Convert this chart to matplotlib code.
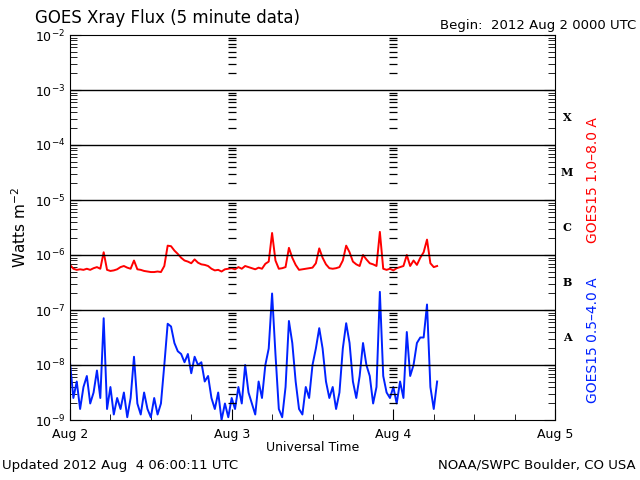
import numpy as np
import matplotlib
matplotlib.use("Agg")
import matplotlib.pyplot as plt

# half-hour samples (log10 W/m^2) starting 2012 Aug 2 00:00 UTC
long_exp = [
    -6.18, -6.25, -6.27, -6.26, -6.27, -6.25, -6.27, -6.24, -6.22, -6.25,
    -5.95, -6.27, -6.29, -6.28, -6.26, -6.22, -6.20, -6.23, -6.25, -6.10,
    -6.26, -6.27, -6.29, -6.30, -6.31, -6.31, -6.30, -6.31, -6.20, -5.83,
    -5.84, -5.92, -5.98, -6.05, -6.10, -6.12, -6.15, -6.08, -6.14, -6.17,
    -6.18, -6.20, -6.25, -6.28, -6.27, -6.30, -6.26, -6.25, -6.24, -6.26,
    -6.22, -6.25, -6.20, -6.22, -6.24, -6.26, -6.23, -6.25, -6.16, -6.12,
    -5.60, -6.10, -6.25, -6.24, -6.22, -5.87, -6.05, -6.18, -6.27, -6.26,
    -6.25, -6.24, -6.23, -6.15, -5.88, -6.05, -6.17, -6.24, -6.25, -6.24,
    -6.22, -6.10, -5.83, -5.95, -6.12, -6.17, -6.20, -6.00, -6.08, -6.15,
    -6.17, -6.20, -5.58, -6.25, -6.27, -6.25, -6.28, -6.24, -6.22, -6.20,
    -6.00, -6.20, -6.10, -6.18, -6.05, -5.95, -5.72, -6.15, -6.22, -6.20,
]
short_exp = [
    -7.95, -8.60, -8.30, -8.80, -8.40, -8.20, -8.70, -8.50, -8.10, -8.60,
    -7.15, -8.80, -8.40, -8.90, -8.60, -8.80, -8.50, -8.95, -8.60, -7.85,
    -8.70, -8.90, -8.50, -8.80, -8.95, -8.60, -8.90, -8.70, -8.00, -7.25,
    -7.30, -7.60, -7.75, -7.80, -7.95, -7.80, -8.15, -7.85, -8.00, -7.95,
    -8.30, -8.20, -8.60, -8.80, -8.50, -9.00, -8.70, -8.95, -8.60, -8.80,
    -8.40, -8.70, -8.00, -8.50, -8.70, -8.90, -8.30, -8.60, -8.00, -7.70,
    -6.70, -7.80, -8.80, -8.95, -8.40, -7.20, -7.60, -8.30, -8.80, -8.90,
    -8.40, -8.60, -8.00, -7.70, -7.33, -7.70, -8.30, -8.60, -8.40, -8.80,
    -8.50, -7.70, -7.24, -7.60, -8.30, -8.60, -8.20, -7.60, -8.00, -8.20,
    -8.70, -8.40, -6.67, -8.20, -8.50, -8.60, -8.40, -8.70, -8.30, -8.60,
    -7.40, -8.20, -8.00, -7.60, -7.50, -7.50, -6.90, -8.40, -8.80, -8.30,
]
day_labels = ["Aug 2", "Aug 3", "Aug 4", "Aug 5"]
class_letters = ["X", "M", "C", "B", "A"]
class_exp = [-3.5, -4.5, -5.5, -6.5, -7.5]

hours = np.arange(len(long_exp)) * 0.5

fig = plt.figure(figsize=(6.4, 4.8), dpi=100)
ax = fig.add_axes([70 / 640, 60 / 480, 485 / 640, 385 / 480])

ax.plot(hours, 10.0 ** np.array(long_exp), color="#ff0000", lw=1.4)
ax.plot(hours, 10.0 ** np.array(short_exp), color="#0022ff", lw=1.4)

ax.set_yscale("log")
ax.set_ylim(1e-9, 1e-2)
ax.set_xlim(0, 72)
for e in range(-8, -2):
    ax.axhline(10.0 ** e, color="black", lw=1)

# day boundary marks: stacks of short ticks at minor log values
minor = [m * 10.0 ** e for e in range(-9, -2) for m in range(2, 10)]
for d in (24, 48):
    ax.plot([d] * len(minor), minor, ls="none", marker="_", ms=6,
            mew=0.9, color="black")

ax.set_xticks([0, 24, 48, 72])
ax.set_xticklabels(day_labels, fontsize=9)
ax.set_xticks(np.arange(0, 73, 6), minor=True)
ax.tick_params(axis="x", which="both", direction="in", top=False)
ax.tick_params(axis="x", which="major", length=8, pad=6)
ax.tick_params(axis="x", which="minor", length=4)
ax.tick_params(axis="y", which="both", direction="in", right=True,
               labelsize=9)
ax.tick_params(axis="y", which="major", length=8)
ax.tick_params(axis="y", which="minor", length=5)
ax.set_ylabel("Watts m$^{-2}$", fontsize=11, labelpad=4)
ax.set_xlabel("Universal Time", fontsize=9, labelpad=0)

for letter, e in zip(class_letters, class_exp):
    ax.text(1.025, (e + 9) / 7, letter, transform=ax.transAxes,
            fontsize=8, fontweight="bold", family="serif",
            ha="center", va="center")

fig.text(593 / 640, 1 - 180 / 480, "GOES15 1.0\u20138.0 A", color="#ff0000",
         rotation=90, ha="center", va="center", fontsize=10)
fig.text(593 / 640, 1 - 340 / 480, "GOES15 0.5\u20134.0 A", color="#0022ff",
         rotation=90, ha="center", va="center", fontsize=10)

fig.text(35 / 640, 1 - 18 / 480, "GOES Xray Flux (5 minute data)",
         fontsize=12, va="center")
fig.text(636 / 640, 1 - 25 / 480, "Begin:  2012 Aug 2 0000 UTC",
         fontsize=9.5, va="center", ha="right")
fig.text(2 / 640, 1 - 465 / 480, "Updated 2012 Aug  4 06:00:11 UTC",
         fontsize=9.5, va="center")
fig.text(636 / 640, 1 - 465 / 480, "NOAA/SWPC Boulder, CO USA",
         fontsize=9.5, va="center", ha="right")

fig.savefig("out.png", dpi=100)
